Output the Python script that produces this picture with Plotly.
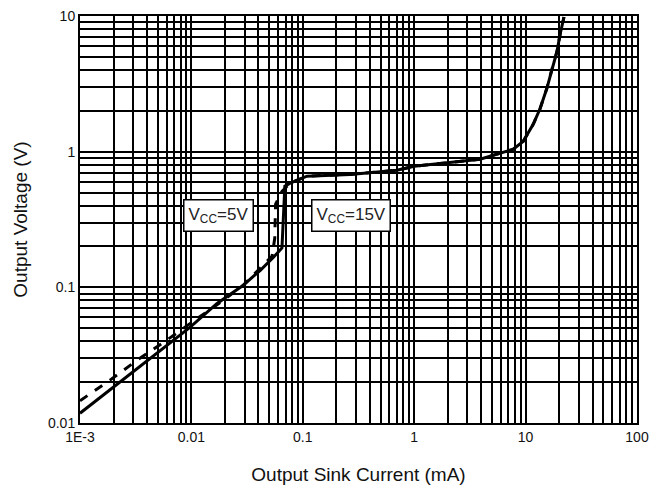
import plotly.graph_objects as go

# Vcc = 15 V (solid)
x15 = [0.001, 0.0049, 0.0097, 0.017, 0.029, 0.0413, 0.054, 0.065, 0.069, 0.077, 0.109, 0.265, 0.70,
       1.0, 3.9, 7.7, 9.5, 11.7, 13.5, 15.5, 17.3, 19.1, 20.4, 22.1]
y15 = [0.0118, 0.033, 0.0506, 0.076, 0.103, 0.133, 0.165, 0.195, 0.557, 0.586, 0.66, 0.68, 0.73,
       0.78, 0.88, 1.04, 1.19, 1.59, 2.08, 2.92, 4.1, 5.46, 7.3, 9.84]

# Vcc = 5 V (dashed)
x5 = [0.001, 0.00186, 0.00325, 0.00556, 0.0097, 0.018, 0.029, 0.048, 0.053, 0.056, 0.057, 0.065, 0.077,
      0.109, 0.265, 0.70, 1.0, 3.9, 7.7, 9.5, 11.7, 13.5, 15.5, 17.3, 19.1, 20.4, 22.1]
y5 = [0.0146, 0.0207, 0.029, 0.039, 0.054, 0.077, 0.103, 0.157, 0.17, 0.23, 0.41, 0.51, 0.586,
      0.66, 0.68, 0.73, 0.78, 0.88, 1.04, 1.19, 1.59, 2.08, 2.92, 4.1, 5.46, 7.3, 9.84]

x_tickvals = [0.001, 0.01, 0.1, 1, 10, 100]
x_ticktext = ["1E-3", "0.01", "0.1", "1", "10", "100"]
y_tickvals = [0.01, 0.1, 1, 10]
y_ticktext = ["0.01", "0.1", "1", "10"]

fig = go.Figure()
fig.add_trace(go.Scatter(x=x5, y=y5, mode="lines", line=dict(color="black", width=3, dash="dash"),
                         showlegend=False))
fig.add_trace(go.Scatter(x=x15, y=y15, mode="lines", line=dict(color="black", width=3),
                         showlegend=False))

FAM = "Liberation Sans, Arial, sans-serif"
tickfont = dict(family=FAM, size=14, color="#111")
titlefont = dict(family=FAM, size=19, color="#111")

fig.add_annotation(x=-1.761, y=-0.474, xref="x", yref="y", text="V<sub>CC</sub>=5V", showarrow=False,
                   bgcolor="white", bordercolor="black", borderwidth=1.5, borderpad=4,
                   font=dict(family=FAM, size=17, color="#222"))
fig.add_annotation(x=-0.567, y=-0.474, xref="x", yref="y", text="V<sub>CC</sub>=15V", showarrow=False,
                   bgcolor="white", bordercolor="black", borderwidth=1.5, borderpad=4,
                   font=dict(family=FAM, size=17, color="#222"))

axis_common = dict(type="log", showgrid=True, gridcolor="black", gridwidth=1.6,
                   showline=True, linecolor="black", linewidth=2, mirror=True,
                   ticks="", zeroline=False, automargin=False, ticklabeloverflow="allow",
                   minor=dict(showgrid=True, gridcolor="black", gridwidth=1.5, dtick="D1", ticks=""))

fig.update_xaxes(range=[-3, 2], tickvals=x_tickvals, ticktext=x_ticktext,
                 title=dict(text="Output Sink Current (mA)", font=titlefont, standoff=24),
                 tickfont=tickfont, **axis_common)
fig.update_yaxes(range=[-2, 1], tickvals=y_tickvals, ticktext=y_ticktext,
                 title=dict(text="Output Voltage (V)", font=titlefont),
                 tickfont=tickfont, **axis_common)

fig.update_layout(width=665, height=487, margin=dict(l=72, r=36, t=8, b=72),
                  paper_bgcolor="white", plot_bgcolor="white", showlegend=False)

fig.write_html("out.html")
